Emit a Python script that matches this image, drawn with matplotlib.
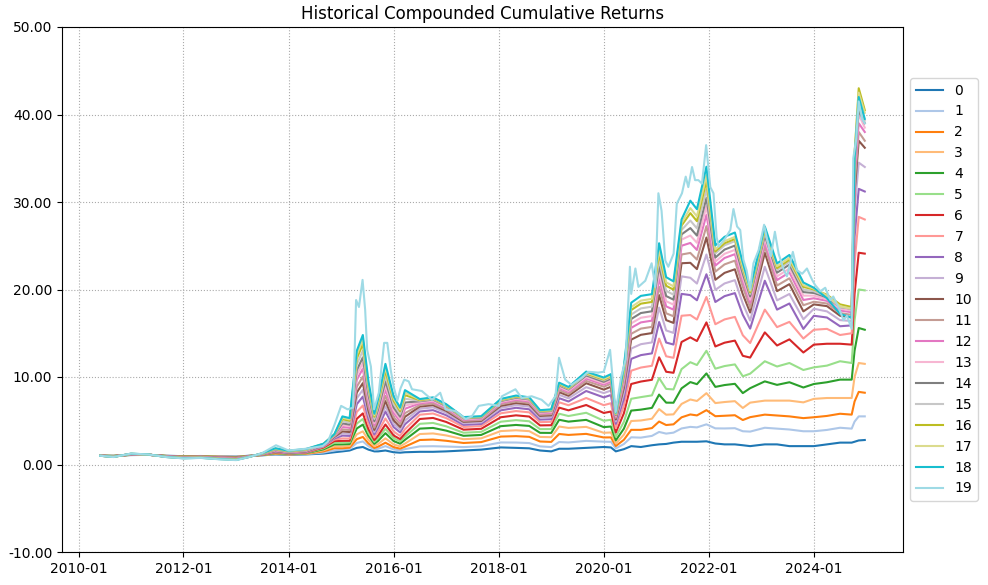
"""Historical compounded cumulative returns for 20 leverage buckets (0..19)."""
import matplotlib
matplotlib.use("Agg")
import matplotlib.pyplot as plt
import matplotlib.dates as mdates
import pandas as pd
from matplotlib.ticker import FormatStrFormatter

# anchor dates (series 0..18)
dates = [
    "2010-06-01", "2010-09-01", "2011-01-01", "2011-05-01", "2011-09-01", "2012-01-01", "2012-05-01", "2012-09-01", "2013-01-01", "2013-04-01",
    "2013-07-01", "2013-10-01", "2014-01-01", "2014-05-01", "2014-09-01", "2014-11-15", "2015-01-10", "2015-03-01", "2015-04-20", "2015-06-01",
    "2015-07-10", "2015-08-20", "2015-09-15", "2015-11-05", "2016-01-01", "2016-02-15", "2016-03-20", "2016-07-01", "2016-10-01", "2017-01-01",
    "2017-05-01", "2017-09-01", "2018-01-15", "2018-05-01", "2018-08-01", "2018-10-15", "2019-01-01", "2019-02-25", "2019-05-01", "2019-09-01",
    "2020-01-01", "2020-02-20", "2020-03-25", "2020-05-20", "2020-07-10", "2020-09-15", "2020-12-01", "2021-01-20", "2021-03-10", "2021-04-30",
    "2021-06-25", "2021-08-25", "2021-10-10", "2021-12-15", "2022-02-15", "2022-04-20", "2022-07-01", "2022-08-25", "2022-10-15", "2023-01-25",
    "2023-04-20", "2023-07-15", "2023-10-20", "2024-01-01", "2024-04-01", "2024-07-01", "2024-09-20", "2024-10-10", "2024-11-08", "2024-12-20",
]

series_0 = [1.00, 1.00, 1.08, 1.10, 1.00, .95, .97, .92, .90, 1.00,
            1.05, 1.15, 1.10, 1.15, 1.25, 1.40, 1.50, 1.60, 1.90, 2.00,
            1.70, 1.50, 1.50, 1.60, 1.40, 1.35, 1.40, 1.45, 1.45, 1.50,
            1.60, 1.70, 1.95, 1.90, 1.85, 1.60, 1.50, 1.80, 1.80, 1.90,
            2.00, 1.95, 1.50, 1.75, 2.10, 2.00, 2.20, 2.30, 2.35, 2.50,
            2.60, 2.60, 2.60, 2.65, 2.40, 2.30, 2.30, 2.20, 2.10, 2.30,
            2.30, 2.10, 2.10, 2.10, 2.30, 2.50, 2.50, 2.60, 2.75, 2.80]
series_1 = [1.00, .99, 1.09, 1.10, .99, .94, .96, .90, .88, .99,
            1.06, 1.19, 1.13, 1.18, 1.37, 1.61, 1.70, 1.79, 2.46, 2.64,
            2.09, 1.72, 1.80, 2.10, 1.72, 1.61, 1.76, 2.07, 2.09, 2.05,
            1.99, 2.09, 2.52, 2.51, 2.45, 2.07, 1.99, 2.57, 2.52, 2.70,
            2.61, 2.59, 1.84, 2.34, 3.11, 3.07, 3.27, 3.72, 3.53, 3.64,
            4.12, 4.30, 4.24, 4.59, 4.13, 4.12, 4.15, 3.80, 3.76, 4.20,
            4.10, 4.00, 3.80, 3.80, 3.95, 4.20, 4.10, 4.90, 5.50, 5.50]
series_2 = [1.00, .98, 1.10, 1.11, .98, .92, .95, .89, .86, .98,
            1.08, 1.23, 1.15, 1.22, 1.50, 1.86, 1.86, 1.93, 2.90, 3.15,
            2.40, 1.89, 2.04, 2.49, 1.98, 1.81, 2.04, 2.80, 2.85, 2.71,
            2.46, 2.56, 3.19, 3.24, 3.16, 2.63, 2.58, 3.49, 3.38, 3.50,
            3.09, 3.10, 2.11, 2.82, 3.96, 3.96, 4.16, 4.91, 4.51, 4.59,
            5.39, 5.72, 5.61, 6.21, 5.52, 5.57, 5.63, 5.08, 5.41, 5.70,
            5.60, 5.50, 5.30, 5.40, 5.55, 5.80, 5.70, 7.20, 8.30, 8.20]
series_3 = [1.00, .98, 1.11, 1.11, .98, .91, .94, .87, .84, .98,
            1.09, 1.27, 1.18, 1.25, 1.63, 2.09, 2.06, 2.12, 3.45, 3.79,
            2.79, 2.10, 2.34, 2.99, 2.30, 2.07, 2.39, 3.48, 3.55, 3.32,
            2.89, 2.99, 3.82, 3.91, 3.81, 3.15, 3.12, 4.34, 4.18, 4.30,
            3.62, 3.66, 2.40, 3.41, 4.97, 5.03, 5.23, 6.33, 5.69, 5.73,
            6.92, 7.43, 7.26, 8.15, 7.02, 7.14, 7.24, 6.46, 7.07, 7.30,
            7.30, 7.30, 7.10, 7.50, 7.60, 7.60, 7.60, 10.00, 11.60, 11.50]
series_4 = [1.00, .97, 1.12, 1.11, .97, .90, .92, .85, .82, .97,
            1.10, 1.31, 1.21, 1.29, 1.74, 2.30, 2.30, 2.34, 4.12, 4.56,
            3.26, 2.36, 2.70, 3.58, 2.68, 2.38, 2.82, 4.10, 4.18, 3.87,
            3.28, 3.38, 4.38, 4.52, 4.41, 3.62, 3.61, 5.11, 4.90, 5.10,
            4.27, 4.34, 2.76, 4.09, 6.16, 6.27, 6.47, 7.99, 7.07, 7.06,
            8.70, 9.42, 9.18, 10.41, 8.87, 9.08, 9.22, 8.16, 8.72, 9.50,
            9.10, 9.40, 8.80, 9.20, 9.40, 9.70, 9.70, 13.00, 15.60, 15.40]
series_5 = [1.00, .96, 1.12, 1.11, .96, .88, .91, .84, .79, .96,
            1.12, 1.35, 1.23, 1.32, 1.85, 2.49, 2.50, 2.53, 4.68, 5.20,
            3.65, 2.58, 3.00, 4.08, 3.00, 2.64, 3.18, 4.65, 4.75, 4.36,
            3.63, 3.73, 4.89, 5.07, 4.94, 4.04, 4.05, 5.80, 5.54, 5.91,
            5.00, 5.11, 3.17, 4.87, 7.51, 7.70, 7.90, 9.88, 8.64, 8.58,
            10.90, 11.69, 11.37, 13.00, 10.95, 11.25, 11.44, 10.08, 10.38, 11.80,
            11.20, 11.60, 10.80, 11.10, 11.30, 11.80, 11.60, 16.50, 20.00, 19.90]
series_6 = [1.00, .95, 1.13, 1.12, .95, .87, .90, .82, .77, .95,
            1.13, 1.39, 1.26, 1.36, 1.95, 2.68, 2.70, 2.71, 5.23, 5.84,
            4.04, 2.79, 3.30, 4.57, 3.32, 2.90, 3.53, 5.20, 5.32, 4.86,
            3.98, 4.08, 5.40, 5.62, 5.48, 4.47, 4.49, 6.50, 6.19, 6.80,
            5.89, 6.05, 3.66, 5.85, 9.20, 9.48, 9.68, 12.25, 10.60, 10.48,
            14.00, 14.53, 14.11, 16.24, 13.49, 13.92, 14.16, 12.42, 12.22, 15.10,
            13.60, 14.30, 12.80, 13.70, 13.80, 13.80, 13.70, 19.50, 24.20, 24.10]
series_7 = [1.00, .94, 1.14, 1.12, .94, .86, .89, .80, .75, .94,
            1.14, 1.43, 1.28, 1.39, 2.04, 2.85, 2.98, 2.97, 6.01, 6.74,
            4.59, 3.09, 3.72, 5.26, 3.77, 3.26, 4.03, 5.69, 5.83, 5.30,
            4.29, 4.39, 5.85, 6.11, 5.96, 4.84, 4.88, 7.11, 6.77, 7.60,
            6.78, 7.00, 4.16, 6.72, 10.72, 11.08, 11.28, 14.39, 12.37, 12.19,
            17.00, 17.08, 16.57, 19.15, 16.03, 16.58, 16.87, 14.77, 13.88, 17.70,
            15.70, 16.30, 14.40, 15.40, 15.50, 14.80, 15.00, 23.00, 28.30, 28.00]
series_8 = [1.00, .94, 1.15, 1.12, .94, .84, .88, .79, .73, .94,
            1.16, 1.47, 1.31, 1.42, 2.11, 2.98, 3.30, 3.27, 6.90, 7.76,
            5.21, 3.44, 4.20, 6.06, 4.28, 3.67, 4.60, 6.06, 6.21, 5.63,
            4.53, 4.63, 6.19, 6.48, 6.31, 5.13, 5.18, 7.58, 7.20, 8.40,
            7.67, 7.94, 4.65, 7.50, 12.07, 12.50, 12.70, 16.28, 13.94, 13.71,
            19.50, 19.36, 18.77, 21.74, 18.57, 19.24, 19.59, 17.11, 15.53, 21.00,
            17.70, 18.40, 15.50, 17.00, 16.80, 15.80, 15.90, 26.00, 31.50, 31.20]
series_9 = [1.00, .93, 1.16, 1.12, .93, .83, .87, .77, .71, .93,
            1.17, 1.51, 1.34, 1.46, 2.17, 3.08, 3.54, 3.49, 7.56, 8.53,
            5.68, 3.69, 4.56, 6.65, 4.66, 3.98, 5.02, 6.37, 6.53, 5.90,
            4.72, 4.82, 6.47, 6.78, 6.61, 5.36, 5.42, 7.96, 7.56, 8.84,
            8.16, 8.45, 4.92, 8.19, 13.25, 13.75, 13.95, 17.94, 15.32, 15.04,
            21.50, 21.34, 20.68, 24.00, 19.96, 20.69, 21.07, 18.39, 16.45, 22.60,
            18.76, 19.49, 16.60, 17.80, 17.50, 16.50, 16.40, 29.00, 34.50, 34.00]
series_10 = [1.00, .92, 1.17, 1.13, .92, .82, .85, .75, .69, .92,
             1.18, 1.54, 1.36, 1.49, 2.22, 3.16, 3.78, 3.71, 8.23, 9.30,
             6.15, 3.95, 4.92, 7.24, 5.05, 4.29, 5.45, 6.62, 6.78, 6.12,
             4.88, 4.98, 6.70, 7.02, 6.85, 5.55, 5.62, 8.27, 7.85, 9.29,
             8.56, 8.88, 5.15, 8.77, 14.27, 14.82, 15.02, 19.36, 16.50, 16.18,
             23.00, 23.05, 22.33, 25.94, 21.11, 21.90, 22.31, 19.45, 17.37, 24.20,
             19.81, 20.61, 17.50, 18.30, 18.10, 17.00, 16.80, 31.00, 37.00, 36.20]
series_11 = [1.00, .91, 1.18, 1.13, .91, .80, .84, .73, .67, .91,
             1.19, 1.58, 1.39, 1.53, 2.25, 3.23, 4.02, 3.93, 8.89, 10.06,
             6.61, 4.21, 5.28, 7.84, 5.43, 4.60, 5.87, 6.80, 6.97, 6.29,
             4.99, 5.09, 6.87, 7.21, 7.03, 5.69, 5.76, 8.50, 8.06, 9.55,
             8.89, 9.22, 5.33, 9.16, 14.94, 15.53, 15.73, 20.31, 17.28, 16.94,
             24.00, 24.18, 23.42, 27.24, 22.04, 22.87, 23.30, 20.31, 17.92, 24.90,
             20.45, 21.28, 18.20, 18.60, 18.40, 17.30, 17.10, 32.00, 38.00, 37.00]
series_12 = [1.00, .91, 1.19, 1.13, .91, .79, .83, .72, .65, .91,
             1.21, 1.62, 1.42, 1.56, 2.29, 3.29, 4.30, 4.19, 9.67, 10.96,
             7.16, 4.51, 5.70, 8.53, 5.88, 4.96, 6.37, 6.99, 7.17, 6.45,
             5.11, 5.21, 7.04, 7.39, 7.21, 5.83, 5.91, 8.73, 8.28, 9.82,
             9.13, 9.47, 5.46, 9.55, 15.62, 16.24, 16.44, 21.26, 18.07, 17.70,
             25.00, 25.32, 24.52, 28.53, 22.73, 23.60, 24.04, 20.94, 18.48, 25.40,
             21.08, 21.95, 18.80, 19.00, 18.70, 17.60, 17.40, 33.00, 39.00, 38.00]
series_13 = [1.00, .90, 1.20, 1.13, .90, .78, .82, .70, .63, .90,
             1.22, 1.66, 1.44, 1.59, 2.31, 3.33, 4.50, 4.38, 10.23, 11.60,
             7.55, 4.73, 6.00, 9.03, 6.20, 5.21, 6.73, 7.11, 7.29, 6.56,
             5.19, 5.29, 7.15, 7.51, 7.32, 5.92, 6.01, 8.88, 8.42, 10.00,
             9.29, 9.65, 5.55, 9.84, 16.13, 16.77, 16.97, 21.97, 18.66, 18.27,
             25.70, 26.17, 25.34, 29.50, 23.19, 24.08, 24.53, 21.37, 18.84, 25.80,
             21.50, 22.39, 19.30, 19.30, 18.90, 17.80, 17.60, 34.00, 40.00, 38.50]
series_14 = [1.00, .89, 1.20, 1.14, .89, .77, .81, .68, .61, .89,
             1.23, 1.70, 1.47, 1.63, 2.33, 3.37, 4.70, 4.56, 10.78, 12.24,
             7.94, 4.94, 6.30, 9.52, 6.52, 5.47, 7.08, 7.23, 7.42, 6.67,
             5.27, 5.37, 7.26, 7.63, 7.44, 6.02, 6.11, 9.04, 8.57, 10.18,
             9.45, 9.82, 5.64, 10.14, 16.63, 17.31, 17.51, 22.68, 19.25, 18.84,
             26.30, 27.02, 26.16, 30.47, 23.65, 24.56, 25.02, 21.80, 19.21, 26.20,
             21.92, 22.84, 19.70, 19.60, 19.10, 18.00, 17.80, 34.50, 40.50, 39.00]
series_15 = [1.00, .88, 1.21, 1.14, .88, .75, .80, .67, .58, .88,
             1.25, 1.74, 1.49, 1.66, 2.34, 3.40, 4.94, 4.78, 11.45, 13.01,
             8.41, 5.20, 6.66, 10.11, 6.90, 5.78, 7.51, 7.29, 7.48, 6.73,
             5.31, 5.41, 7.32, 7.70, 7.50, 6.07, 6.16, 9.12, 8.64, 10.31,
             9.61, 9.99, 5.73, 10.43, 17.14, 17.84, 18.04, 23.39, 19.84, 19.41,
             26.80, 27.88, 26.99, 31.44, 24.11, 25.05, 25.52, 22.22, 19.49, 26.50,
             22.24, 23.17, 20.00, 19.80, 19.20, 18.00, 17.80, 35.00, 41.00, 39.30]
series_16 = [1.00, .87, 1.22, 1.14, .87, .74, .78, .65, .56, .87,
             1.26, 1.78, 1.52, 1.70, 2.35, 3.42, 5.18, 5.00, 12.11, 13.78,
             8.88, 5.46, 7.02, 10.71, 7.29, 6.09, 7.93, 7.35, 7.55, 6.78,
             5.34, 5.44, 7.37, 7.76, 7.56, 6.11, 6.20, 9.19, 8.71, 10.40,
             9.70, 10.07, 5.78, 10.72, 17.65, 18.38, 18.58, 24.10, 20.43, 19.98,
             27.30, 28.73, 27.81, 32.41, 24.35, 25.29, 25.77, 22.44, 19.67, 26.80,
             22.45, 23.40, 20.30, 20.00, 19.40, 18.30, 18.00, 35.50, 43.00, 40.50]
series_17 = [1.00, .87, 1.23, 1.14, .87, .73, .77, .63, .54, .87,
             1.27, 1.82, 1.55, 1.73, 2.37, 3.44, 5.34, 5.15, 12.56, 14.29,
             9.19, 5.63, 7.26, 11.10, 7.54, 6.29, 8.22, 7.42, 7.61, 6.84,
             5.38, 5.48, 7.43, 7.82, 7.62, 6.16, 6.25, 9.27, 8.78, 10.49,
             9.78, 10.16, 5.82, 10.92, 17.99, 18.73, 18.93, 24.58, 20.82, 20.36,
             27.60, 29.30, 28.36, 33.06, 24.58, 25.53, 26.01, 22.65, 19.86, 27.00,
             22.66, 23.62, 20.50, 20.10, 19.30, 18.10, 17.80, 35.50, 42.50, 40.20]
series_18 = [1.00, .86, 1.24, 1.15, .86, .71, .76, .62, .52, .86,
             1.29, 1.86, 1.57, 1.77, 2.38, 3.46, 5.50, 5.30, 13.00, 14.80,
             9.50, 5.80, 7.50, 11.50, 7.80, 6.50, 8.50, 7.48, 7.67, 6.89,
             5.42, 5.52, 7.49, 7.88, 7.68, 6.21, 6.30, 9.35, 8.86, 10.62,
             9.94, 10.33, 5.91, 11.21, 18.49, 19.27, 19.47, 25.29, 21.41, 20.93,
             28.00, 30.15, 29.18, 34.03, 25.04, 26.02, 26.51, 23.07, 20.13, 27.20,
             22.98, 23.95, 20.80, 20.20, 19.00, 17.20, 16.80, 35.00, 42.00, 39.50]

# series 19 swings the most, so it gets its own, denser set of readings
dates_19 = [
    "2010-06-01", "2010-09-01", "2011-01-01", "2011-05-01", "2011-09-01", "2012-01-01", "2012-05-01", "2012-09-01", "2013-01-01", "2013-04-01",
    "2013-07-01", "2013-10-05", "2014-01-01", "2014-05-01", "2014-08-25", "2014-10-01", "2014-11-15", "2015-01-01", "2015-02-15", "2015-03-25",
    "2015-04-15", "2015-05-05", "2015-05-30", "2015-06-17", "2015-07-01", "2015-07-27", "2015-08-18", "2015-09-20", "2015-10-27", "2015-11-18",
    "2015-12-12", "2016-01-01", "2016-01-27", "2016-02-18", "2016-03-15", "2016-04-15", "2016-05-08", "2016-07-15", "2016-09-24", "2016-11-20",
    "2016-12-28", "2017-03-08", "2017-05-16", "2017-06-28", "2017-08-15", "2017-10-23", "2018-01-01", "2018-01-23", "2018-04-27", "2018-06-10",
    "2018-08-18", "2018-10-26", "2018-12-13", "2019-01-30", "2019-02-24", "2019-04-08", "2019-05-22", "2019-07-31", "2019-09-16", "2019-11-24",
    "2020-01-01", "2020-02-14", "2020-03-10", "2020-03-24", "2020-05-01", "2020-06-01", "2020-07-01", "2020-07-10", "2020-08-08", "2020-08-29",
    "2020-10-16", "2020-11-29", "2020-12-24", "2021-01-15", "2021-02-06", "2021-03-04", "2021-03-25", "2021-05-01", "2021-05-23", "2021-06-28",
    "2021-07-24", "2021-08-11", "2021-09-06", "2021-09-27", "2021-10-20", "2021-11-14", "2021-12-02", "2021-12-13", "2022-01-11", "2022-02-02",
    "2022-02-24", "2022-03-10", "2022-04-27", "2022-05-30", "2022-06-21", "2022-07-16", "2022-08-07", "2022-08-29", "2022-09-20", "2022-10-15",
    "2022-11-07", "2022-12-13", "2023-01-20", "2023-02-10", "2023-03-08", "2023-04-05", "2023-05-01", "2023-06-07", "2023-06-28", "2023-08-08",
    "2023-09-06", "2023-10-12", "2023-11-14", "2023-12-20", "2024-01-10", "2024-02-15", "2024-03-20", "2024-04-25", "2024-05-15", "2024-06-25",
    "2024-07-25", "2024-08-18", "2024-09-20", "2024-10-01", "2024-10-20", "2024-11-08", "2024-12-01", "2024-12-20",
]
series_19 = [1.00, .85, 1.25, 1.15, .85, .70, .75, .60, .50, .85,
             1.30, 2.20, 1.60, 1.80, 2.10, 2.60, 4.50, 6.70, 6.30, 6.50,
             18.80, 18.00, 21.10, 17.70, 13.10, 11.20, 6.30, 8.20, 13.90, 13.90,
             10.80, 8.90, 7.30, 8.70, 9.70, 9.50, 8.60, 8.40, 7.40, 8.20,
             6.30, 6.10, 5.20, 5.50, 6.70, 6.90, 6.70, 7.80, 8.60, 7.60,
             7.80, 7.40, 6.70, 7.80, 12.20, 9.70, 9.10, 9.90, 10.60, 10.50,
             10.60, 13.10, 8.60, 6.00, 10.00, 12.00, 22.60, 19.50, 22.40, 20.30,
             21.00, 23.00, 20.30, 31.00, 29.00, 23.30, 22.60, 24.10, 29.80, 31.00,
             32.90, 31.70, 34.00, 32.50, 32.50, 32.10, 34.80, 36.50, 31.70, 31.00,
             26.00, 24.90, 25.90, 26.80, 29.20, 27.20, 26.80, 23.40, 22.20, 20.00,
             23.00, 24.50, 27.40, 25.70, 23.80, 26.60, 24.10, 22.20, 21.50, 24.30,
             22.20, 21.80, 22.40, 21.10, 20.50, 19.80, 20.20, 18.80, 19.20, 17.80,
             16.50, 17.00, 15.50, 35.00, 37.00, 41.50, 39.50, 39.00]

shared_series = [series_0, series_1, series_2, series_3, series_4, series_5, series_6,
                 series_7, series_8, series_9, series_10, series_11, series_12, series_13,
                 series_14, series_15, series_16, series_17, series_18]
labels = [str(i) for i in range(20)]


def main():
    idx = pd.to_datetime(dates)
    lines = [pd.Series(vals, index=idx) for vals in shared_series]
    lines.append(pd.Series(series_19, index=pd.to_datetime(dates_19)))

    fig = plt.figure(figsize=(9.88, 5.85), dpi=100)
    ax = fig.add_axes([62 / 988, 1 - 552 / 585, (903 - 62) / 988, (552 - 27) / 585])

    cmap = plt.get_cmap("tab20")
    for i, (lab, s) in enumerate(zip(labels, lines)):
        ax.plot(s.index, s.values, color=cmap(i), linewidth=1.5, label=lab)

    ax.set_ylim(-10, 50)
    ax.yaxis.set_major_formatter(FormatStrFormatter("%.2f"))
    ax.xaxis.set_major_locator(mdates.YearLocator(2))
    ax.xaxis.set_major_formatter(mdates.DateFormatter("%Y-%m"))
    ax.grid(True, linestyle=":", color="#aaaaaa")
    ax.set_title("Historical Compounded Cumulative Returns")
    ax.legend(loc="center left", bbox_to_anchor=(1.0, 0.5))

    fig.savefig("out.png", dpi=100)


if __name__ == "__main__":
    main()
